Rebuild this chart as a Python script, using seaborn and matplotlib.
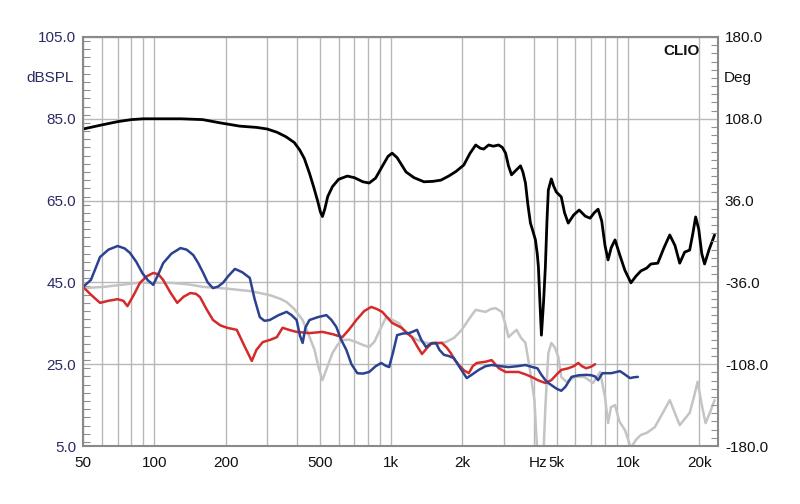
import matplotlib
matplotlib.use("Agg")
import matplotlib.pyplot as plt
import matplotlib.ticker as mticker
import seaborn as sns
import pandas as pd

# ---- data ----
black_f = [50, 60, 70, 80, 90, 100, 130, 160, 190, 230, 270, 300, 330, 360, 390, 411, 430, 452, 470,
           489, 503, 513, 525, 540, 565, 600, 653, 700, 760, 808, 860, 920, 970, 1010, 1060, 1156,
           1250, 1376, 1500, 1622, 1750, 1876, 2027, 2150, 2276, 2380, 2459, 2581, 2700, 2844, 2950,
           3043, 3130, 3224, 3380, 3518, 3600, 3692, 3780, 3875, 3970, 4067, 4140, 4187, 4250, 4311,
           4400, 4480, 4550, 4612, 4748, 4860, 4983, 5229, 5400, 5596, 5900, 6226, 6600, 6923, 7200,
           7478, 7750, 8000, 8241, 8500, 8819, 9200, 9700, 10294, 10800, 11339, 12000, 12495, 13363,
           14200, 15014, 15800, 16540, 17356, 18220, 18800, 19311, 19900, 20500, 21065, 22000, 23210]
black_db = [82.5, 83.5, 84.3, 84.8, 85.0, 85.0, 85.0, 84.8, 84.0, 83.2, 82.9, 82.5, 81.7, 80.6, 79.2,
            77.4, 75.3, 71.7, 68.5, 65.0, 62.2, 61.1, 63.0, 66.0, 68.4, 70.2, 71.0, 70.6, 69.6, 69.3,
            70.5, 73.5, 75.8, 76.6, 75.5, 72.0, 70.6, 69.6, 69.7, 70.0, 71.0, 72.1, 73.7, 76.5, 78.6,
            77.8, 77.6, 78.6, 78.3, 78.6, 78.0, 76.6, 73.5, 71.3, 72.5, 73.5, 72.0, 69.3, 64.0, 59.5,
            57.5, 55.4, 52.0, 48.8, 40.0, 32.1, 40.0, 48.8, 60.0, 67.6, 70.3, 68.5, 67.1, 65.9, 62.0,
            59.5, 61.5, 62.7, 61.2, 60.7, 62.0, 62.9, 60.0, 54.0, 50.5, 53.5, 55.4, 52.0, 48.0, 44.9,
            46.5, 47.8, 48.5, 49.5, 49.7, 53.5, 56.6, 54.0, 49.7, 52.4, 52.9, 57.0, 61.0, 58.0, 52.0,
            49.5, 53.0, 56.6]

gray_f = [50, 61, 75, 85, 117, 140, 161, 200, 253, 307, 340, 362, 390, 423, 450, 475, 495, 513, 535,
          565, 595, 622, 665, 713, 760, 808, 850, 890, 953, 1000, 1080, 1156, 1280, 1403, 1550, 1703,
          1850, 1988, 2130, 2276, 2400, 2507, 2640, 2762, 2928, 3030, 3132, 3250, 3384, 3530, 3692,
          3875, 4028, 4107, 4160, 4390, 4480, 4612, 4748, 4921, 5080, 5229, 5489, 5989, 6539, 7121,
          7625, 7997, 8241, 8479, 8819, 9200, 9714, 10294, 10800, 11339, 12000, 12980, 14000, 15014,
          15800, 16540, 17300, 18220, 19000, 19690, 20500, 21270, 22300, 23210]
gray_db = [43.6, 43.9, 44.5, 44.9, 44.9, 44.5, 43.9, 43.5, 42.9, 41.9, 41.0, 40.2, 38.5, 35.8, 32.0,
           28.5, 24.0, 21.1, 24.0, 27.7, 29.8, 30.9, 31.0, 30.4, 29.7, 29.2, 30.5, 33.0, 36.5, 36.0,
           35.0, 32.6, 31.0, 30.2, 30.0, 30.4, 31.5, 33.4, 36.0, 38.3, 38.0, 37.8, 38.5, 38.7, 37.8,
           35.0, 31.6, 32.5, 33.4, 31.5, 30.2, 22.8, 16.2, 7.2, 2.0, 2.0, 14.5, 27.7, 30.2, 29.0,
           26.8, 21.9, 20.7, 21.9, 21.9, 20.4, 23.1, 17.0, 10.6, 14.5, 15.0, 11.0, 8.9, 4.5, 6.5,
           7.7, 8.2, 9.6, 13.0, 16.2, 13.0, 10.1, 11.5, 13.1, 17.0, 20.7, 15.0, 10.6, 13.5, 16.2]

red_f = [50, 54, 59, 64, 70, 74, 77, 82, 87, 93, 99, 104, 109, 117, 125, 133, 142, 150, 156, 166, 177,
         190, 203, 223, 240, 258, 270, 287, 310, 329, 348, 375, 399, 452, 513, 570, 622, 665, 713,
         770, 824, 870, 917, 1010, 1100, 1225, 1300, 1350, 1420, 1487, 1638, 1720, 1787, 1860, 1931,
         2030, 2127, 2210, 2298, 2500, 2657, 2850, 3043, 3451, 3700, 3912, 4200, 4480, 4748, 5000,
         5229, 5596, 5900, 6166, 6400, 6661, 7000, 7264]
red_db = [43.9, 42.0, 40.0, 40.5, 40.9, 40.5, 39.2, 42.0, 44.9, 46.5, 47.3, 47.0, 45.6, 42.5, 40.0,
          41.5, 42.4, 42.2, 41.4, 38.5, 35.8, 34.5, 33.9, 33.4, 29.5, 25.8, 28.5, 30.4, 31.0, 31.6,
          33.9, 33.3, 32.9, 32.6, 32.9, 32.3, 31.6, 33.5, 35.8, 38.0, 39.0, 38.5, 37.8, 35.1, 34.0,
          31.6, 29.0, 27.5, 29.0, 30.2, 30.2, 29.0, 27.7, 26.0, 24.8, 23.5, 22.8, 24.5, 25.3, 25.6,
          26.0, 24.0, 23.1, 23.1, 22.5, 21.9, 21.0, 20.4, 21.1, 22.5, 23.6, 24.0, 24.5, 25.3, 24.5,
          24.0, 24.4, 25.0]

blue_f = [50, 54, 59, 64, 70, 75, 79, 84, 89, 94, 99, 104, 109, 118, 129, 137, 146, 153, 161, 168,
          177, 186, 195, 205, 219, 235, 253, 265, 279, 292, 307, 335, 362, 380, 399, 412, 423, 435,
          452, 490, 533, 560, 587, 615, 647, 680, 720, 760, 808, 860, 908, 950, 981, 1020, 1060, 1120,
          1190, 1240, 1286, 1340, 1403, 1470, 1546, 1600, 1670, 1750, 1840, 1960, 2086, 2200, 2343,
          2500, 2657, 2900, 3132, 3400, 3692, 3950, 4147, 4300, 4480, 4612, 4748, 5000, 5229, 5450,
          5780, 6200, 6661, 7000, 7264, 7478, 7800, 8500, 9255, 9700, 10195, 10600, 11015]
blue_db = [43.9, 45.6, 51.2, 53.0, 53.9, 53.3, 52.2, 50.0, 47.3, 45.5, 44.4, 47.0, 49.7, 52.0, 53.4,
           53.0, 51.7, 49.8, 47.3, 45.0, 43.6, 44.0, 44.9, 46.5, 48.3, 47.5, 46.1, 41.0, 36.5, 35.6,
           35.8, 37.0, 37.8, 37.0, 35.8, 32.0, 30.2, 34.0, 35.8, 36.5, 37.0, 35.8, 34.1, 31.0, 28.5,
           25.0, 22.8, 22.7, 23.1, 24.5, 25.3, 24.6, 24.3, 28.0, 32.1, 32.5, 32.6, 33.0, 33.4, 31.0,
           29.2, 30.0, 30.2, 28.5, 27.3, 27.0, 26.5, 24.0, 21.6, 22.5, 23.6, 24.5, 24.8, 24.5, 24.3,
           24.5, 24.8, 24.3, 24.0, 22.5, 21.1, 20.4, 19.9, 19.0, 18.5, 19.5, 21.9, 22.3, 22.4, 22.3,
           22.0, 21.1, 22.8, 22.8, 23.3, 22.5, 21.6, 21.8, 21.9]

x_major = [50, 100, 200, 500, 1000, 2000, 5000, 10000, 20000]
x_labels = ["50", "100", "200", "500", "1k", "2k", "5k", "10k", "20k"]
y_left_ticks = [5, 25, 45, 65, 85, 105]
y_right_ticks = [-180, -108, -36, 36, 108, 180]

# ---- style ----
sns.set_theme(style="white")
plt.rcParams["font.family"] = ["Liberation Sans", "DejaVu Sans"]

fig = plt.figure(figsize=(8, 5.04), dpi=100)
ax = fig.add_axes([83 / 800, 1 - 446 / 504, (718 - 83) / 800, (446 - 37) / 504])

series = [
    (gray_f, gray_db, "#c4c4c4", 1.8),
    (red_f, red_db, "#d42a2a", 1.8),
    (blue_f, blue_db, "#2b4291", 1.8),
    (black_f, black_db, "#000000", 2.0),
]
for f, d, c, lw in series:
    df = pd.DataFrame({"f": f, "db": d})
    sns.lineplot(data=df, x="f", y="db", ax=ax, color=c, linewidth=lw, sort=True)

ax.set_xscale("log")
ax.set_xlim(50, 24000)
ax.set_ylim(5, 105)

ax.xaxis.set_major_locator(mticker.FixedLocator(x_major))
ax.xaxis.set_major_formatter(mticker.FixedFormatter(x_labels))
minor = [m * 10 ** e for e in range(1, 5) for m in range(1, 10)]
minor = [v for v in minor if 50 <= v <= 24000 and v not in x_major]
ax.xaxis.set_minor_locator(mticker.FixedLocator(minor))
ax.xaxis.set_minor_formatter(mticker.NullFormatter())

ax.yaxis.set_major_locator(mticker.FixedLocator(y_left_ticks))
ax.yaxis.set_major_formatter(mticker.FuncFormatter(lambda v, p: f"{v:.1f}"))
ax.yaxis.set_minor_locator(mticker.MultipleLocator(2))

ax.grid(True, which="major", axis="both", color="#b8b8b8", linewidth=1.0)
ax.grid(True, which="minor", axis="x", color="#b8b8b8", linewidth=1.0)
ax.set_axisbelow(True)

ax.tick_params(axis="x", which="both", length=0, pad=7, labelsize=11, labelcolor="#111111")
ax.tick_params(axis="y", which="major", length=0, pad=5, labelsize=11, labelcolor="#2a2a66")
ax.tick_params(axis="y", which="minor", direction="in", length=5, width=0.8, color="#909090",
               left=True)
ax.set_xlabel("")
ax.set_ylabel("")

for s in ax.spines.values():
    s.set_color("#8a8a8a")
    s.set_linewidth(1.5)

ax2 = ax.twinx()
ax2.set_ylim(-180, 180)
ax2.yaxis.set_major_locator(mticker.FixedLocator(y_right_ticks))
ax2.yaxis.set_major_formatter(mticker.FuncFormatter(lambda v, p: f"{v:.1f}"))
ax2.yaxis.set_minor_locator(mticker.MultipleLocator(7.2))
ax2.tick_params(axis="y", which="major", length=0, pad=5, labelsize=11, labelcolor="#111111")
ax2.tick_params(axis="y", which="minor", direction="in", length=5, width=0.8, color="#909090")
for s in ax2.spines.values():
    s.set_visible(False)

fig.text(74 / 800, 1 - 78 / 504, "dBSPL", ha="right", va="center", fontsize=11, color="#2a2a66")
fig.text(724 / 800, 1 - 78 / 504, "Deg", ha="left", va="center", fontsize=11, color="#111111")
fig.text(700 / 800, 1 - 51 / 504, "CLIO", ha="right", va="center", fontsize=11,
         fontweight="bold", color="#111111")
ax.annotate("Hz", xy=(5000, 0), xycoords=("data", "axes fraction"), xytext=(-7, -7),
            textcoords="offset points", ha="right", va="top", fontsize=11, color="#111111")

fig.savefig("out.png", dpi=100, facecolor="white")
